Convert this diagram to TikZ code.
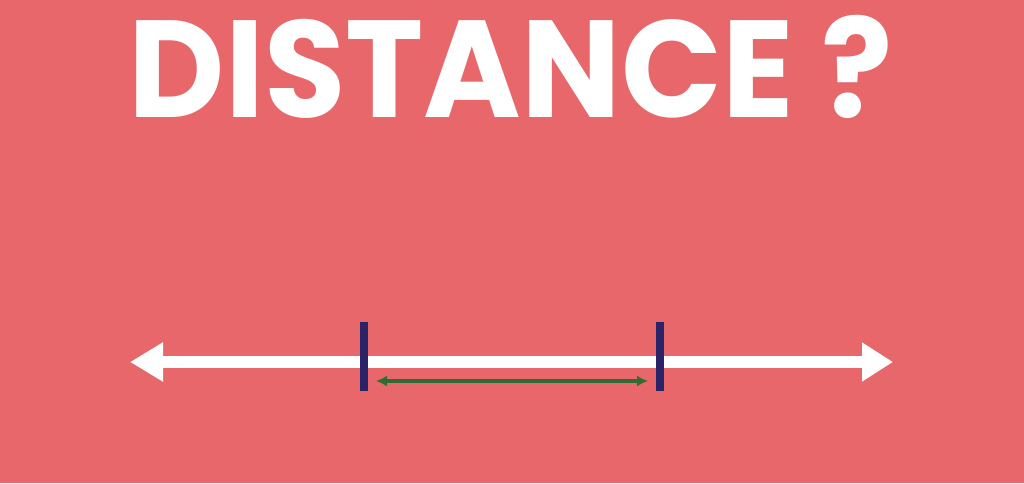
\documentclass[tikz,border=0pt]{standalone}
\usepackage{fontspec}
\setmainfont{Poppins}
\usetikzlibrary{arrows.meta}
\usetikzlibrary{positioning}
\definecolor{bgRed}{HTML}{E8676A}
\definecolor{tickBlue}{HTML}{2B2368}
\definecolor{gapGreen}{HTML}{2E6B35}

\begin{document}
\begin{tikzpicture}[x=1pt, y=1pt, inner sep=0pt]
    \pgfmathsetmacro{\tickWidth}{8}
    \pgfmathsetmacro{\tickHeight}{69}

    \fill [bgRed] (0,0) rectangle (1024,483);

    \node (title) [anchor=base, text=white, font=\bfseries\fontsize{138}{138}\selectfont] at (511,366) {\scalebox{0.96}[1]{DISTANCE ?}};

    \coordinate (lineL) at (130,121);
    \coordinate (lineR) at (893,121);
    \coordinate (gapL) at (376,102);
    \coordinate (gapR) at (648,102);

    \draw [white, line width=12pt, {Triangle[length=33pt, width=37pt]}-{Triangle[length=31pt, width=37pt]}] (lineL) -- (lineR);

    \node (tickA) [fill=tickBlue, minimum width=\tickWidth, minimum height=\tickHeight] at (364,126.5) {};
    \node (tickB) [fill=tickBlue, minimum width=\tickWidth, minimum height=\tickHeight] at (660,126.5) {};

    \draw [gapGreen, line width=4pt, {Latex[length=11pt, width=11pt]}-{Latex[length=11pt, width=11pt]}] (gapL) -- (gapR);
\end{tikzpicture}
\end{document}
